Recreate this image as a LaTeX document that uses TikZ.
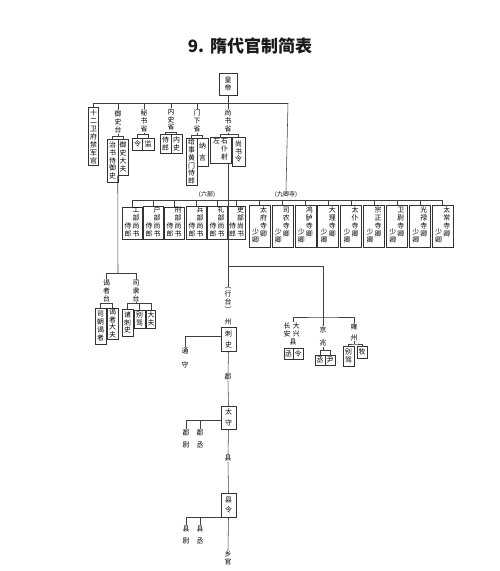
\documentclass[tikz,border=0pt]{standalone}
\usepackage{fontspec}
\newfontfamily\cjk{Noto Sans CJK SC}
\newcommand{\vcol}[1]{\begin{tabular}[b]{@{}c@{}}#1\end{tabular}}
\tikzset{
  box/.style={draw=black!80, line width=0.55pt, inner sep=0pt, text=black,
    font=\cjk\fontsize{6.9}{7.8}\selectfont, align=center},
  lbl/.style={inner sep=0.5pt, text=black,
    font=\cjk\fontsize{6.9}{7.8}\selectfont, align=center},
  sz/.style 2 args={minimum width=#1, minimum height=#2},
  conn/.style={draw=black!75, line width=0.55pt}
}
\begin{document}
\begin{tikzpicture}[x=1pt,y=-1pt]
\useasboundingbox (0,0) rectangle (500,571);
\node[font=\cjk\fontsize{17}{20}\selectfont\bfseries, text=black!90] (title) at (250,46) {9.\hspace{0.35em}隋代官制简表};

% central offices
\begin{scope}
    \node[box, sz={18}{22}] (emp) at (228,84) {皇\\帝};
    \node[box, sz={10}{58}, font=\cjk\fontsize{6.9}{8}\selectfont] (wei) at (93.5,136.5) {十\\二\\卫\\府\\禁\\军\\官};
    \node[lbl] (yst) at (118,122) {御\\史\\台};
    \node[box, sz={11}{43}] (zsh) at (112.5,160.5) {治\\书\\侍\\御\\史};
    \node[box, sz={10}{36}] (ysdf) at (123,157) {御\\史\\大\\夫};
    \node[lbl] (msj) at (144,121) {秘\\书\\省};
    \node[box, sz={9.5}{12}] (mling) at (137.5,144) {令};
    \node[box, sz={12}{12}] (mjian) at (148.25,144) {监};
    \node[lbl] (nsj) at (171,119.5) {内\\史\\省};
    \node[box, sz={11}{19}] (nslang) at (165.5,143.5) {侍\\郎};
    \node[box, sz={11}{19}] (nshi) at (176.5,143.5) {内\\史};
    \node[lbl] (mxs) at (197,121) {门\\下\\省};
    \node[box, sz={11}{47}] (gshm) at (191.5,161.5) {给\\事\\黄\\门\\侍\\郎};
    \node[box, sz={11}{28}] (nayan) at (202.5,152) {纳\\[4pt]言};
    \node[lbl] (ssj) at (228,121) {尚\\书\\省};
    \node[box, sz={21}{26}] (pushe) at (220.5,150) {\begin{tabular}{@{}c@{\,}c@{}}左&右\\&仆\\&射\end{tabular}};
    \node[box, sz={13}{29}] (ssling) at (238.5,151.5) {尚\\书\\令};
\end{scope}
\coordinate (tl) at (93.5,103);
\coordinate (tr) at (288,103);
\draw[conn] (tl) -- (tr);
\foreach \n in {wei,yst,msj,nsj,mxs}
    \draw[conn] (\n.north) -- (\n.north |- tl);
\draw[conn] (emp.south) -- (ssj.north);
\coordinate (ysb) at (118,136.5);
\draw[conn] (yst.south) -- (ysb);
\draw[conn] (zsh.north) |- (ysb) -| (ysdf.north);
\coordinate (msb) at (144,134.5);
\draw[conn] (msj.south) -- (msb);
\draw[conn] (mling.north) |- (msb) -| (mjian.north);
\coordinate (nsb) at (171,131.8);
\draw[conn] (nslang.north) |- (nsb) -| (nshi.north);
\coordinate (mxb) at (197,135.5);
\draw[conn] (mxs.south) -- (mxb);
\draw[conn] (gshm.north) |- (mxb) -| (nayan.north);
\coordinate (ssb) at (228,134.5);
\draw[conn] (ssj.south) -- (ssb);
\draw[conn] (pushe.north) |- (ssb) -| (ssling.north);

% six ministries, nine courts
\node[lbl, font=\cjk\fontsize{6}{7}\selectfont] (liubu) at (207,195) {(六部)};
\node[lbl, font=\cjk\fontsize{6}{7}\selectfont] (jql) at (286,194.5) {(九卿寺)};
\draw[conn] (tr) -- (jql.north);
\coordinate (hl) at (132,200.5);
\coordinate (hr) at (442.7,200.5);
\draw[conn] (hl) -- (hr);
\foreach \x/\a/\n in {132/工/gong,153/户/hu,174/刑/xing,196/兵/bing,217/礼/li}{
    \node[box, sz={20}{32}] (\n) at (\x,223) {\vcol{侍\\郎}\,\vcol{\a\\部\\尚\\书}};
    \draw[conn] (\n.north) -- (\n.north |- hl);
}
\node[box, sz={18}{32}] (libu) at (236.5,223) {\vcol{侍\\郎}\,\vcol{吏\\部\\尚\\书}};
\draw[conn] (libu.north) -- (libu.north |- hl);
\foreach \i/\a/\b/\n in {0/太/府/taifu,1/司/农/sinong,2/鸿/胪/honglu,3/大/理/dali,4/太/仆/taipu,5/宗/正/zongzheng,6/卫/尉/weiwei,7/光/禄/guanglu,8/太/常/taichang}{
    \node[box, sz={21}{42}] (\n) at (259.5+22.9*\i,226) {\raisebox{-6pt}{\vcol{少\\卿}}\,\vcol{\a\\\b\\寺\\卿}};
    \draw[conn] (\n.north) -- (\n.north |- hl);
}

% censorate branch
\coordinate (yzb) at (118,273.5);
\draw[conn] (ysdf.south west) -- (yzb);
\node[lbl] (yzt) at (106.5,291) {谒\\者\\台};
\node[lbl] (slt) at (136,291) {司\\隶\\台};
\draw[conn] (yzt.north) |- (yzb) -| (slt.north);
\node[box, sz={11}{36}] (szyz) at (100.5,326) {司\\朝\\谒\\者};
\node[box, sz={11}{31}] (yzdf) at (112.5,323.5) {谒\\者\\大\\夫};
\coordinate (yzc) at (106.5,303.5);
\draw[conn] (yzt.south) -- (yzc);
\draw[conn] (szyz.north) |- (yzc) -| (yzdf.north);
\node[box, sz={11}{27}] (zcs) at (127.5,322.5) {诸\\刺\\史};
\node[box, sz={11}{18}] (bjia) at (139.5,319) {别\\驾};
\node[box, sz={9}{18}] (dfu) at (151,319) {大\\夫};
\coordinate (slb) at (136,303.5);
\draw[conn] (slt.south) -- (slb);
\draw[conn] (zcs.north) |- (slb) -| (dfu.north);
\draw[conn] (bjia.north) -- (bjia.north |- slb);

% local government
\coordinate (j1) at (228,266);
\draw[conn] (pushe.south -| j1) -- (j1);
\node[lbl] (xt) at (228,300) {︵\\行\\台\\︶};
\node[lbl] (zhou) at (228,322) {州};
\node[box, sz={15}{24}] (cishi) at (228.5,339.5) {刺\\[3pt]史};
\draw[conn] (j1) -- (xt.north);
\coordinate (ts) at (185,336);
\node[lbl] (tongshou) at (185,358) {通\\[6pt]守};
\draw[conn] (cishi.west |- ts) -| (tongshou.north);
\node[lbl] (jun) at (228,377) {郡};
\node[box, sz={15}{23}] (taishou) at (228.5,417.5) {太\\[3pt]守};
\draw[conn] (cishi.south) -- (jun.north);
\draw[conn] (jun.south) -- (taishou.north);
\coordinate (jb2) at (186,420);
\node[lbl] (junwei) at (186,439) {郡\\[5pt]尉};
\node[lbl] (juncheng) at (200,439) {郡\\[5pt]丞};
\draw[conn] (taishou.west |- jb2) -| (junwei.north);
\draw[conn] (juncheng.north) -- (juncheng.north |- jb2);
\node[lbl] (xian) at (228,458) {县};
\node[box, sz={15}{24}] (xianling) at (228.5,505) {县\\[3pt]令};
\draw[conn] (taishou.south) -- (xian.north);
\draw[conn] (xian.south) -- (xianling.north);
\node[lbl] (xianwei) at (186,535) {县\\[5pt]尉};
\node[lbl] (xiancheng) at (200,535) {县\\[5pt]丞};
\draw[conn] (xianling.south west) -| (xianwei.north);
\draw[conn] (xiancheng.north) -- (xiancheng.north |- xianling.south);
\node[lbl] (xg) at (228,558) {乡\\官};
\draw[conn] (xianling.south) -- (xg.north);

% capital and Yongzhou
\coordinate (jb) at (323,317);
\draw[conn] (j1) -| (jb);
\node[lbl] (cax) at (293,335) {\begin{tabular}{@{}c@{}c@{}}长&大\\安&兴\\\multicolumn{2}{c}{县}\end{tabular}};
\node[lbl] (jing) at (323,336.5) {京\\[5pt]兆};
\node[lbl] (yz) at (354,332) {雍\\[3pt]州};
\draw[conn] (cax.north) |- (jb) -| (yz.north);
\draw[conn] (jb) -- (jing.north);
\node[box, sz={9}{11}] (cheng1) at (288.5,353.5) {丞};
\node[box, sz={10}{11}] (ling1) at (298,353.5) {令};
\node[box, sz={10}{10}] (cheng2) at (320,360) {丞};
\node[box, sz={10}{10}] (yin) at (330,360) {尹};
\coordinate (jzb) at (323,350.5);
\draw[conn] (jing.south) -- (jzb);
\draw[conn] (cheng2.north) |- (jzb) -| (yin.north);
\node[box, sz={11}{20}] (bjia2) at (348.5,356) {别\\驾};
\node[box, sz={10}{12}] (mu) at (362,352) {牧};
\coordinate (yzb2) at (354,344);
\draw[conn] (yz.south) -- (yzb2);
\draw[conn] (bjia2.north) |- (yzb2) -| (mu.north);
\end{tikzpicture}
\end{document}
